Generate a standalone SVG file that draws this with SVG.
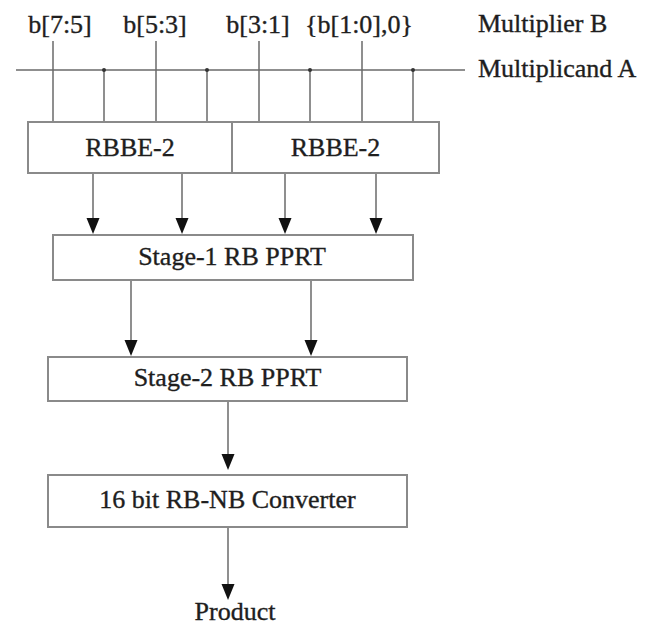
<svg xmlns="http://www.w3.org/2000/svg" width="649" height="626" viewBox="0 0 649 626">
<style>
  .box { fill: #ffffff; stroke: #8a8a8a; stroke-width: 2; }
  .txt { font-family: "Liberation Serif", "DejaVu Serif", serif; font-size: 26px; fill: #1e1e1e; stroke: #1e1e1e; stroke-width: 0.35; }
  .mid { text-anchor: middle; }
  .wire { stroke: #6a6a6a; stroke-width: 1.5; fill: none; }
  .head { fill: #111111; }
  .dot { fill: #333333; }
</style>
<rect width="649" height="626" fill="#ffffff"/>

<g id="labels">
  <text class="txt mid" x="60" y="33">b[7:5]</text>
  <text class="txt mid" x="155" y="33">b[5:3]</text>
  <text class="txt mid" x="258" y="33">b[3:1]</text>
  <text class="txt mid" x="359" y="33">{b[1:0],0}</text>
  <text class="txt" x="478" y="32">Multiplier B</text>
  <text class="txt" x="478" y="77">Multiplicand A</text>
</g>

<g id="connectors">
  <line class="wire" x1="16" y1="70" x2="465" y2="70"/>
  <line class="wire" x1="53" y1="41" x2="53" y2="122"/>
  <line class="wire" x1="156" y1="41" x2="156" y2="122"/>
  <line class="wire" x1="259" y1="41" x2="259" y2="122"/>
  <line class="wire" x1="362" y1="41" x2="362" y2="122"/>
  <line class="wire" x1="104" y1="70" x2="104" y2="122"/>
  <line class="wire" x1="207" y1="70" x2="207" y2="122"/>
  <line class="wire" x1="310" y1="70" x2="310" y2="122"/>
  <line class="wire" x1="413" y1="70" x2="413" y2="122"/>
  <circle class="dot" cx="104" cy="70" r="2"/>
  <circle class="dot" cx="207" cy="70" r="2"/>
  <circle class="dot" cx="310" cy="70" r="2"/>
  <circle class="dot" cx="413" cy="70" r="2"/>
  <line class="wire" x1="93" y1="173" x2="93" y2="220"/>
  <line class="wire" x1="182" y1="173" x2="182" y2="220"/>
  <line class="wire" x1="285" y1="173" x2="285" y2="220"/>
  <line class="wire" x1="376" y1="173" x2="376" y2="220"/>
  <path class="head" d="M86.5,218 L99.5,218 L93,234 Z"/>
  <path class="head" d="M175.5,218 L188.5,218 L182,234 Z"/>
  <path class="head" d="M278.5,218 L291.5,218 L285,234 Z"/>
  <path class="head" d="M369.5,218 L382.5,218 L376,234 Z"/>
  <line class="wire" x1="131" y1="280" x2="131" y2="342"/>
  <line class="wire" x1="311" y1="280" x2="311" y2="342"/>
  <path class="head" d="M124.5,340 L137.5,340 L131,356 Z"/>
  <path class="head" d="M304.5,340 L317.5,340 L311,356 Z"/>
  <line class="wire" x1="228" y1="401" x2="228" y2="456"/>
  <path class="head" d="M221.5,454 L234.5,454 L228,470 Z"/>
  <line class="wire" x1="228" y1="527" x2="228" y2="586"/>
  <path class="head" d="M221.5,584 L234.5,584 L228,600 Z"/>
</g>

<g id="rbbe-left">
  <rect class="box" x="28" y="122" width="204" height="51"/>
  <text class="txt mid" x="130" y="156">RBBE-2</text>
</g>
<g id="rbbe-right">
  <rect class="box" x="232" y="122" width="207" height="51"/>
  <text class="txt mid" x="335.5" y="156">RBBE-2</text>
</g>
<g id="stage1">
  <rect class="box" x="53" y="235" width="360" height="45"/>
  <text class="txt mid" x="232" y="265">Stage-1 RB PPRT</text>
</g>
<g id="stage2">
  <rect class="box" x="48" y="357" width="359" height="44"/>
  <text class="txt mid" x="227.5" y="386">Stage-2 RB PPRT</text>
</g>
<g id="converter">
  <rect class="box" x="48" y="475" width="359" height="52"/>
  <text class="txt mid" x="227.5" y="508">16 bit RB-NB Converter</text>
</g>
<g id="product">
  <text class="txt mid" x="235" y="620">Product</text>
</g>
</svg>
